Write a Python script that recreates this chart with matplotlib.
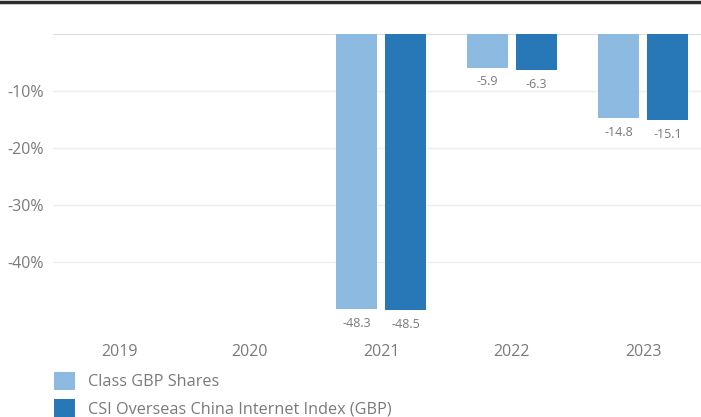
"""Calendar-year performance bar chart: fund share class vs. index."""

import matplotlib

matplotlib.use("Agg")
import matplotlib.pyplot as plt
import numpy as np
from matplotlib.patches import Patch

plt.rcParams["font.family"] = ["Open Sans", "DejaVu Sans"]

years = ["2019", "2020", "2021", "2022", "2023"]
fund_returns = [np.nan, np.nan, -48.3, -5.9, -14.8]
index_returns = [np.nan, np.nan, -48.5, -6.3, -15.1]
series_names = ["Class GBP Shares", "CSI Overseas China Internet Index (GBP)"]
y_ticks = [-10, -20, -30, -40]

LIGHT = "#8cbae1"
DARK = "#2878b8"
TEXT = "#7a7a7a"

W, H = 701, 417
fig = plt.figure(figsize=(W / 100, H / 100), dpi=100)

# axes box in pixels: left 53.5, right 708.5 (runs past the edge), top 34, bottom 319
left, right, top, bottom = 53.5, 708.5, 34, 319
ax = fig.add_axes([left / W, 1 - bottom / H, (right - left) / W, (bottom - top) / H])

x = np.arange(len(years))
width = 0.313
offset = 0.187
ax.bar(x - offset, fund_returns, width, color=LIGHT, zorder=3)
ax.bar(x + offset, index_returns, width, color=DARK, zorder=3)

for xs, vals in ((x - offset, fund_returns), (x + offset, index_returns)):
    for xi, v in zip(xs, vals):
        if np.isnan(v):
            continue
        ax.annotate(f"{v:.1f}", (xi, v), xytext=(0, -5.5), textcoords="offset points",
                    ha="center", va="top", fontsize=9, color=TEXT)

ax.set_xlim(-0.5, len(years) - 0.5)
ax.set_ylim(-50, 0)
ax.set_yticks(y_ticks)
ax.set_yticklabels([f"{t}%" for t in y_ticks])
ax.set_xticks(x)
ax.set_xticklabels(years)
ax.tick_params(axis="both", length=0, labelsize=11.5, labelcolor=TEXT)
ax.tick_params(axis="x", pad=18)
ax.tick_params(axis="y", pad=7)
for spine in ax.spines.values():
    spine.set_visible(False)
ax.grid(axis="y", color="#eeeeee", linewidth=1, zorder=0)
ax.axhline(0, color="#dddddd", linewidth=1.5, zorder=2)

# dark rule across the top of the figure
fig.add_artist(plt.Line2D([0, 1], [1 - 1.5 / H, 1 - 1.5 / H], color="#2b2b2b", linewidth=2.5))

handles = [Patch(facecolor=LIGHT), Patch(facecolor=DARK)]
fig.legend(handles, series_names, loc="upper left", bbox_to_anchor=(54 / W, 1 - 372 / H),
           frameon=False, fontsize=11.7, labelcolor=TEXT, borderpad=0, borderaxespad=0,
           handlelength=1.3, handleheight=1.3, handletextpad=0.8, labelspacing=0.55)

fig.savefig("out.png", dpi=100)
